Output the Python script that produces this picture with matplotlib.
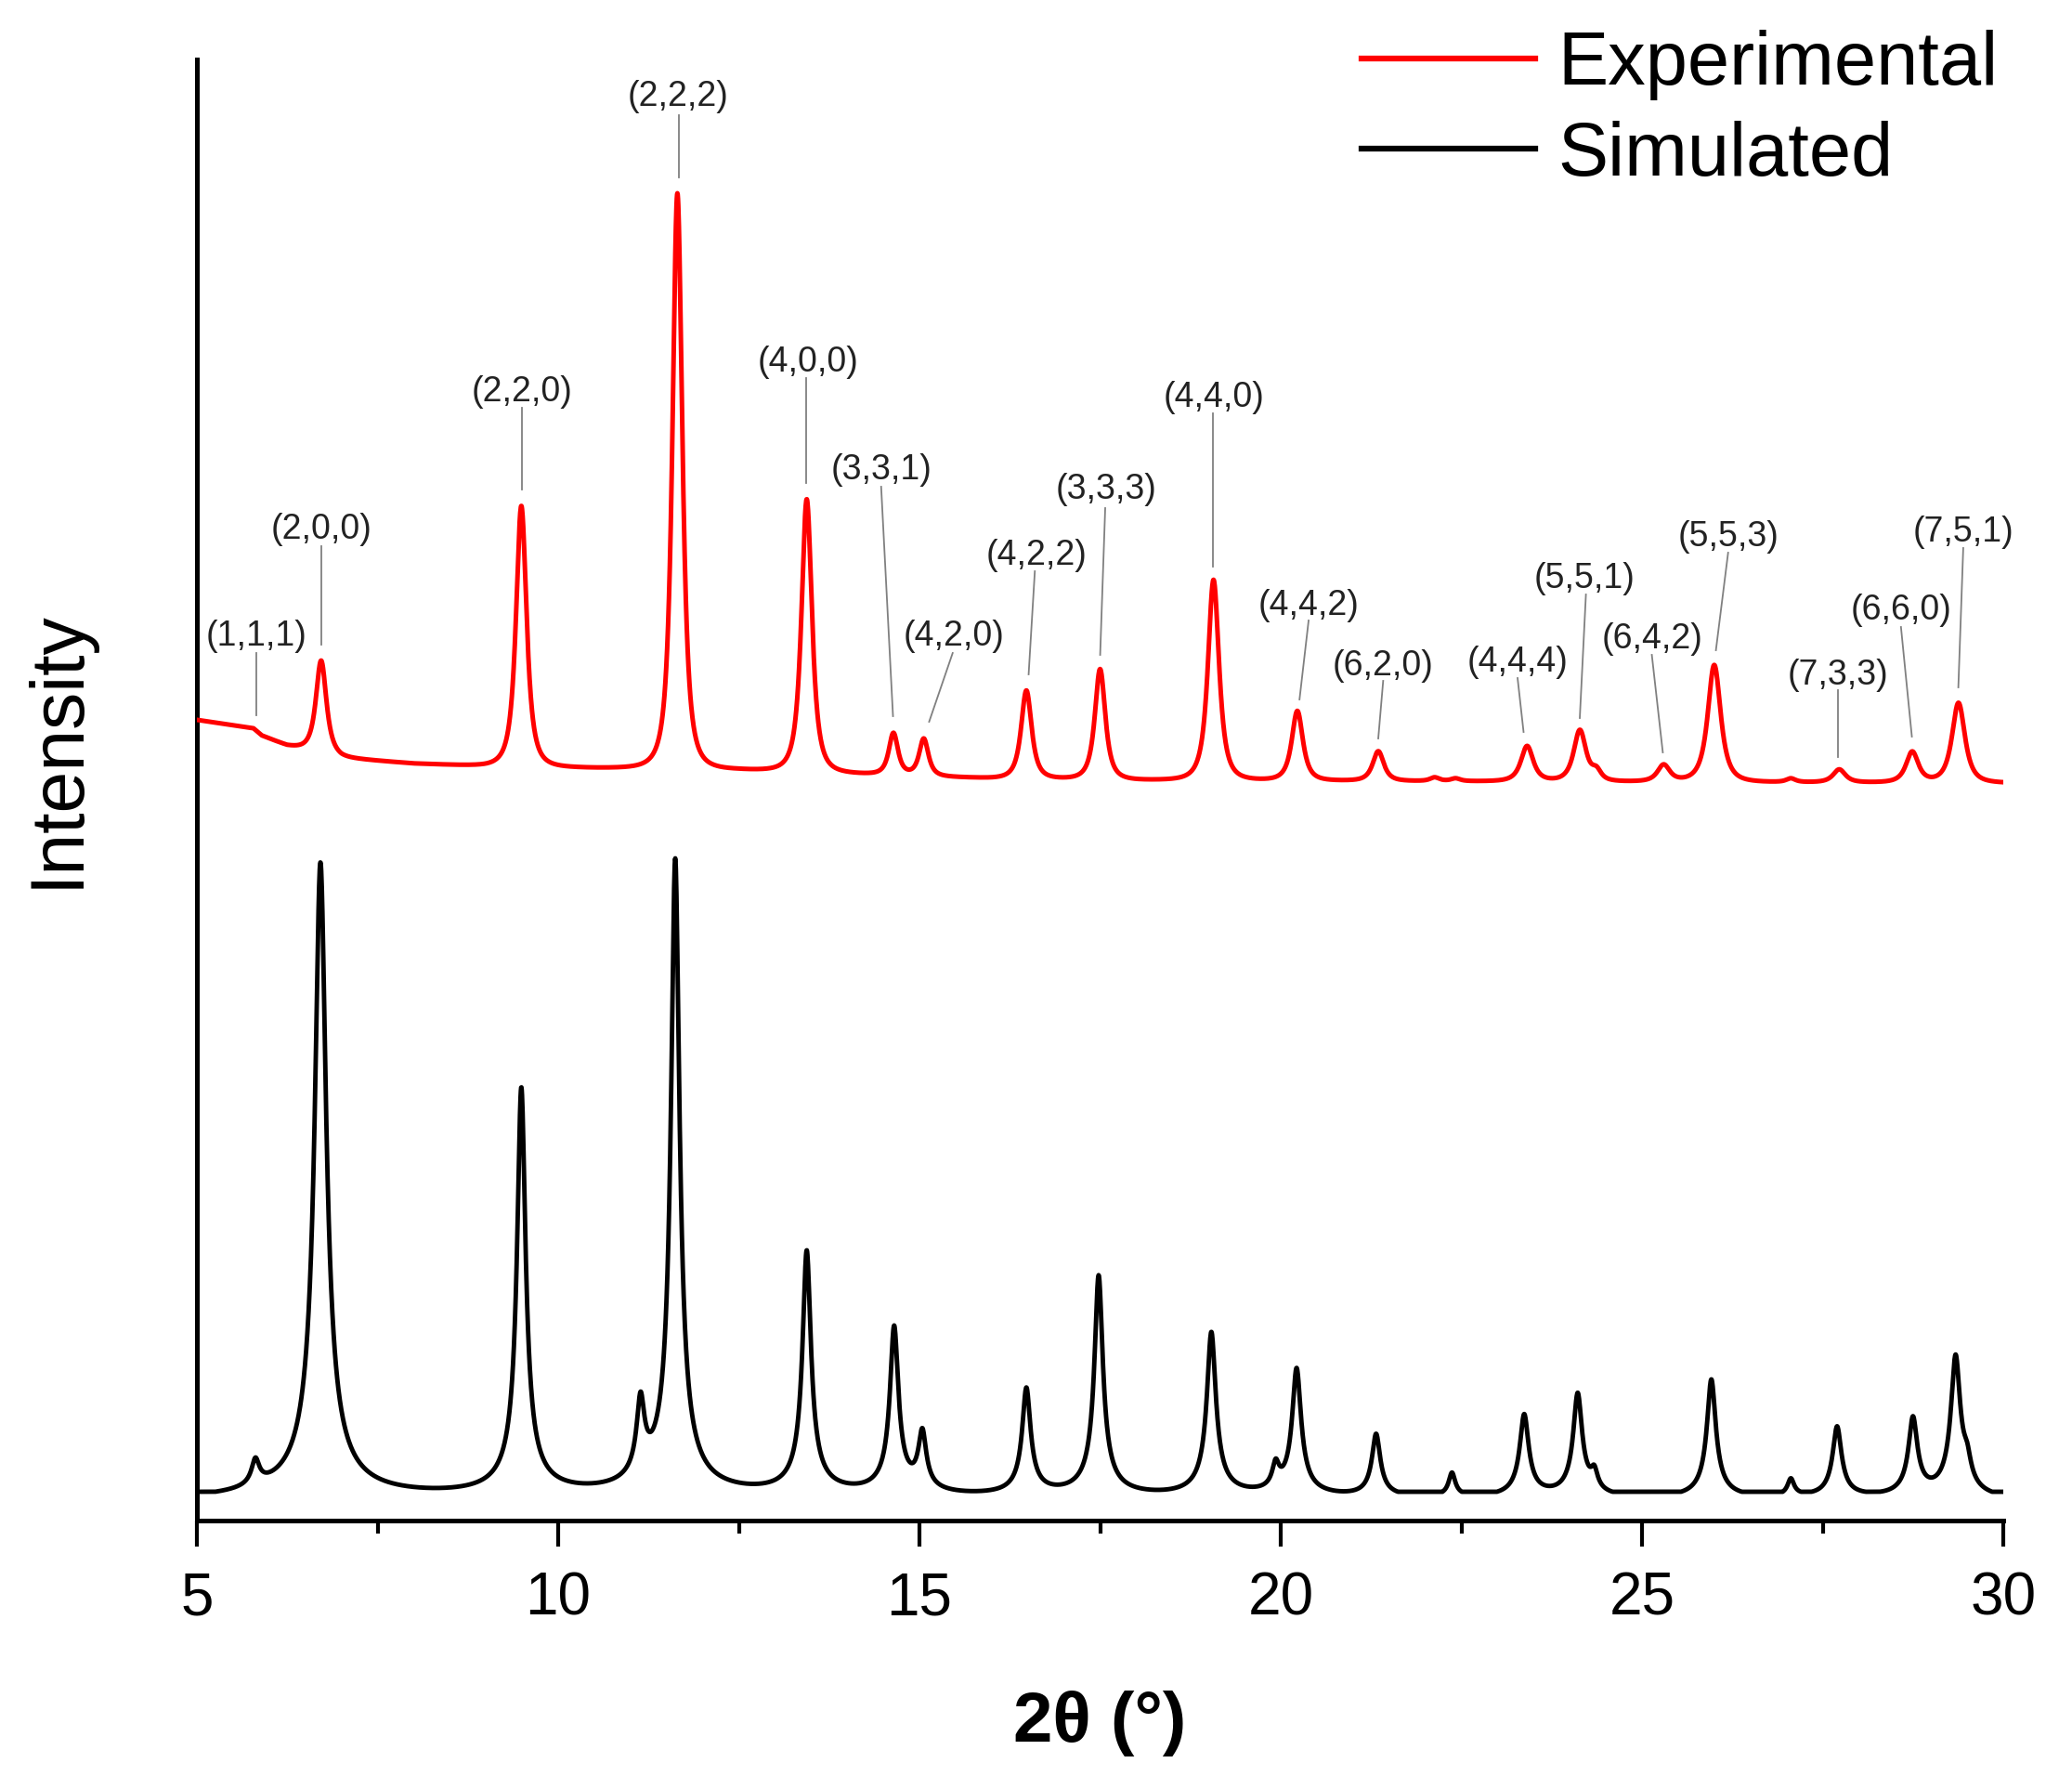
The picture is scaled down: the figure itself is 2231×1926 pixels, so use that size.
import numpy as np
import matplotlib
matplotlib.use("Agg")
import matplotlib.pyplot as plt
from matplotlib.ticker import MultipleLocator

plt.rcParams['font.family'] = ['Liberation Sans', 'DejaVu Sans']

# ---------------- data ----------------
# Simulated pattern: peak positions (2θ, °), heights (a.u.), FWHM (°)
sim_pos = [5.81, 6.71, 9.49, 11.14, 11.62, 13.44, 14.65, 15.04, 16.48, 17.48,
           19.04, 19.93, 20.22, 21.32, 22.37, 23.37, 24.11, 24.34, 25.96, 27.06,
           27.70, 28.75, 29.34, 29.50]
sim_height = [16, 674, 427, 70, 672, 250, 167, 50, 103, 226,
              165, 14, 125, 56, 14, 77, 99, 8, 117, 7,
              65, 72, 138, 12]
sim_fwhm = [0.14, 0.20, 0.15, 0.14, 0.15, 0.15, 0.15, 0.14, 0.15, 0.15,
            0.16, 0.12, 0.16, 0.15, 0.12, 0.16, 0.16, 0.12, 0.16, 0.12,
            0.16, 0.16, 0.17, 0.14]
sim_baseline = 31
sim_threshold = 12

# Experimental pattern: peak positions, heights above background, FWHM
exp_pos = [6.72, 9.49, 11.65, 13.44, 14.64, 15.06, 16.48, 17.50, 19.07, 20.23,
           21.35, 22.13, 22.42, 23.41, 24.14, 24.37, 25.30, 26.00, 27.06, 27.73,
           28.74, 29.38]
exp_height = [100, 281, 620, 294, 45, 40, 95, 119, 216, 75,
              32, 4, 3, 38, 55, 10, 18, 126, 4, 14,
              33, 86]
exp_fwhm = [0.17, 0.17, 0.16, 0.17, 0.15, 0.15, 0.17, 0.17, 0.18, 0.18,
            0.18, 0.15, 0.15, 0.20, 0.20, 0.15, 0.20, 0.21, 0.15, 0.20,
            0.20, 0.21]
# Experimental background (2θ, a.u.)
exp_bg_x = [5.0, 5.78, 5.90, 6.25, 7.0, 8.0, 9.0, 10.5, 12.5, 14.0, 16.0, 18.0, 30.0]
exp_bg_y = [862, 853, 845, 834, 821, 815, 812, 810, 808, 804, 799, 797, 794]

# Miller-index labels
hkl = ['(1,1,1)', '(2,0,0)', '(2,2,0)', '(2,2,2)', '(4,0,0)', '(3,3,1)', '(4,2,0)',
       '(4,2,2)', '(3,3,3)', '(4,4,0)', '(4,4,2)', '(6,2,0)', '(4,4,4)', '(5,5,1)',
       '(6,4,2)', '(5,5,3)', '(7,3,3)', '(6,6,0)', '(7,5,1)']
# label text centres
label_x = [5.819, 6.722, 9.504, 11.658, 13.455, 14.470, 15.476, 16.614, 17.587, 19.077,
           20.386, 21.418, 23.278, 24.206, 25.136, 26.192, 27.712, 28.584, 29.446]
label_y = [952, 1067, 1215, 1533, 1247, 1131, 952, 1039, 1110, 1209,
           985, 920, 924, 1014, 949, 1059, 910, 980, 1064]
# leader lines: start (under label) and end (at peak)
lead_x0 = [5.819, 6.722, 9.504, 11.671, 13.437, 14.470, 15.460, 16.597, 17.571, 19.068,
           20.386, 21.418, 23.278, 24.224, 25.136, 26.192, 27.712, 28.584, 29.446]
lead_y0 = [934, 1049, 1198, 1513, 1230, 1113, 934, 1022, 1090, 1192,
           969, 904, 907, 997, 932, 1042, 894, 962, 1047]
lead_x1 = [5.819, 6.722, 9.504, 11.671, 13.437, 14.634, 15.134, 16.511, 17.501, 19.068,
           20.260, 21.350, 23.361, 24.139, 25.288, 26.023, 27.712, 28.735, 29.378]
lead_y1 = [867, 943, 1110, 1446, 1117, 866, 860, 911, 932, 1027,
           884, 842, 849, 864, 827, 937, 822, 844, 897]


def pearson7(x, x0, h, fwhm, m):
    w = (fwhm / 2.0) / np.sqrt(2 ** (1.0 / m) - 1.0)
    return h * (1.0 + ((x - x0) / w) ** 2) ** (-m)


x = np.linspace(5.0, 30.0, 6001)

sim = np.zeros_like(x)
for p, h, f in zip(sim_pos, sim_height, sim_fwhm):
    sim += pearson7(x, p, h + sim_threshold, f, 0.75)
sim = np.clip(sim - sim_threshold, 0, None) + sim_baseline

exp = np.interp(x, exp_bg_x, exp_bg_y)
for p, h, f in zip(exp_pos, exp_height, exp_fwhm):
    exp += pearson7(x, p, h, f, 1.5)

# ---------------- figure ----------------
W, H = 2231, 1926
fig = plt.figure(figsize=(W / 100, H / 100), dpi=100)
ax = fig.add_axes([212 / W, 1 - 1637 / H, (2157 - 212) / W, (1637 - 64) / H])

ax.plot(x, exp, color='#ff0000', lw=3.6, label='Experimental', zorder=3)
ax.plot(x, sim, color='black', lw=3.5, label='Simulated', zorder=3)

for t, tx, ty, x0, y0, x1, y1 in zip(hkl, label_x, label_y, lead_x0, lead_y0, lead_x1, lead_y1):
    ax.plot([x0, x1], [y0, y1], color='#808080', lw=1.3, zorder=2)
    ax.text(tx, ty, t, ha='center', va='center', fontsize=27, color='#222222')

ax.set_xlim(5, 30)
ax.set_ylim(0, 1573)
for s in ['top', 'right']:
    ax.spines[s].set_visible(False)
for s in ['left', 'bottom']:
    ax.spines[s].set_linewidth(3.6)
ax.set_yticks([])
ax.xaxis.set_major_locator(MultipleLocator(5))
ax.xaxis.set_minor_locator(MultipleLocator(2.5))
ax.tick_params(axis='x', which='major', direction='out', length=20, width=3.0,
               labelsize=46, pad=19)
ax.tick_params(axis='x', which='minor', direction='out', length=10, width=3.0)

ax.set_xlabel('2θ (°)', fontsize=55, fontweight='bold')
ax.xaxis.set_label_coords(0.5, (1637 - 1855) / 1573)
ax.xaxis.label.set_va('center')
ax.set_ylabel('Intensity', fontsize=58)
ax.yaxis.set_label_coords((63 - 212) / 1945, (1637 - 806) / 1573)
ax.yaxis.label.set_va('center')

ax.legend(loc='upper left', bbox_to_anchor=(1466 / W, 1 - 32 / H),
          bbox_transform=fig.transFigure, frameon=False, fontsize=58.5,
          handlelength=2.3, handletextpad=0.3, labelspacing=0.27,
          borderpad=0, borderaxespad=0)
for line in ax.get_legend().get_lines():
    line.set_linewidth(4.5)

fig.savefig('out.png', dpi=100)
